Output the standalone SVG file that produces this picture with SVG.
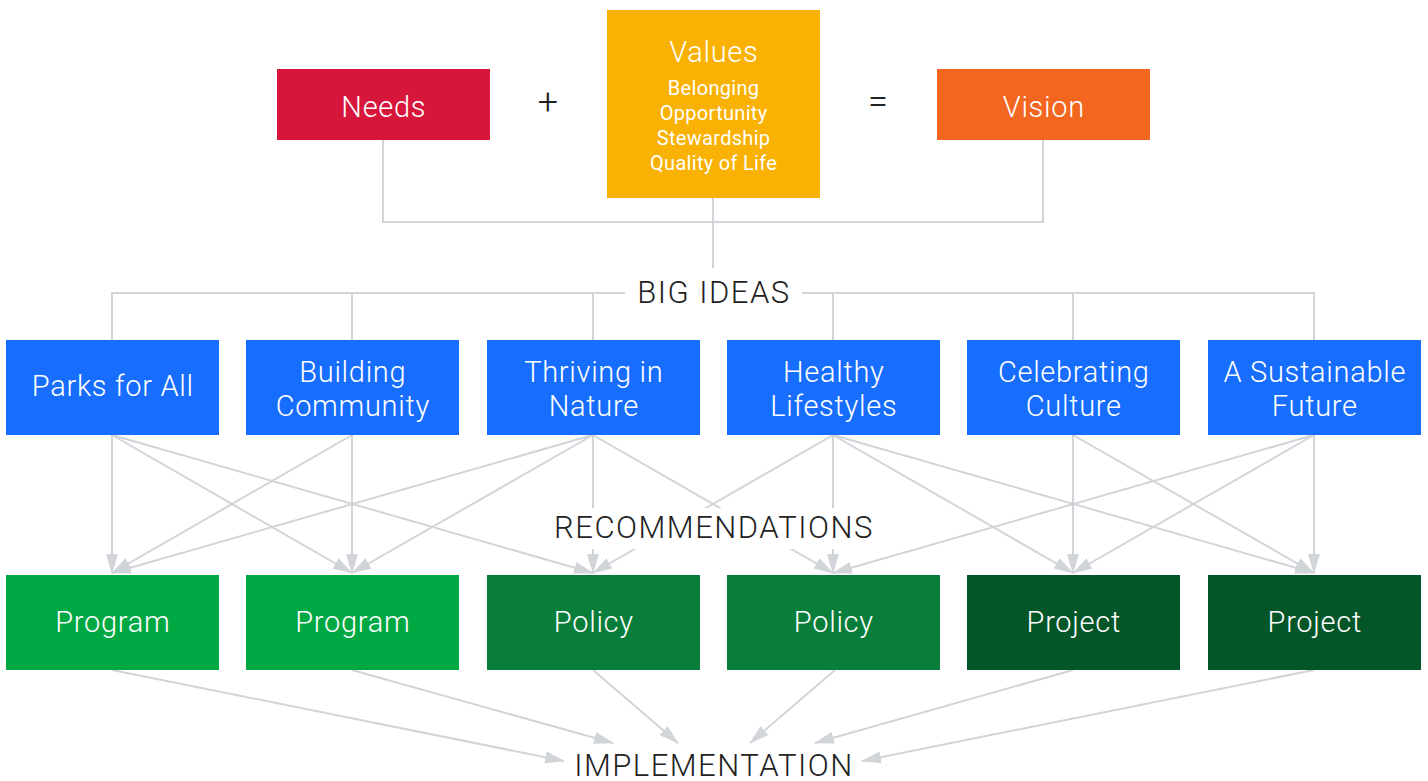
<svg xmlns="http://www.w3.org/2000/svg" width="1428" height="781" viewBox="0 0 1428 781">
<defs>
<style>
.lbl{font-family:Roboto,"Liberation Sans",sans-serif;font-weight:300;fill:#fff;text-anchor:middle;font-size:29px;letter-spacing:0.7px}
.sub{font-size:20px;font-weight:400;letter-spacing:0.3px}
.hd{font-family:Roboto,"Liberation Sans",sans-serif;font-weight:300;fill:#222;text-anchor:middle;font-size:31px;letter-spacing:1.5px}
.op{font-size:36px;letter-spacing:0}
.ln{fill:none;stroke:#D1D5D9;stroke-width:2}
.ar{fill:none;stroke:#D1D5D9;stroke-width:2;marker-end:url(#ah)}
.big{fill:#166DFE}
.prog{fill:#00A843}
.pol{fill:#087E3A}
.proj{fill:#045628}
</style>
<marker id="ah" markerUnits="userSpaceOnUse" markerWidth="20" markerHeight="12" refX="19" refY="6" orient="auto" viewBox="0 0 20 12">
<path d="M0,0 L20,6 L0,12 z" fill="#D1D5D9"/>
</marker>
</defs>
<rect width="1428" height="781" fill="#fff"/>

<g id="connectors">
<path class="ln" d="M383,140 V222 H1043 V140"/>
<path class="ln" d="M713,198 V275"/>
<path class="ln" d="M112,340 V293 H1314 V340"/>
<path class="ln" d="M352,293 V340 M593,293 V340 M833,293 V340 M1073,293 V340"/>
<path class="ar" d="M112,435 L112,573"/>
<path class="ar" d="M112,435 L352,573"/>
<path class="ar" d="M112,435 L593,573"/>
<path class="ar" d="M352,435 L112,573"/>
<path class="ar" d="M352,435 L352,573"/>
<path class="ar" d="M593,435 L112,573"/>
<path class="ar" d="M593,435 L352,573"/>
<path class="ar" d="M593,435 L593,573"/>
<path class="ar" d="M593,435 L833,573"/>
<path class="ar" d="M833,435 L593,573"/>
<path class="ar" d="M833,435 L833,573"/>
<path class="ar" d="M833,435 L1073,573"/>
<path class="ar" d="M833,435 L1314,573"/>
<path class="ar" d="M1073,435 L1073,573"/>
<path class="ar" d="M1073,435 L1314,573"/>
<path class="ar" d="M1314,435 L833,573"/>
<path class="ar" d="M1314,435 L1073,573"/>
<path class="ar" d="M1314,435 L1314,573"/>
<path class="ar" d="M112,670 L564,761"/>
<path class="ar" d="M352,670 L613,743"/>
<path class="ar" d="M593,670 L678,743"/>
<path class="ar" d="M835,670 L750,743"/>
<path class="ar" d="M1073,670 L815,743"/>
<path class="ar" d="M1314,670 L862,761"/>
</g>

<g id="label-big-ideas">
<rect x="625" y="268" width="177" height="48" fill="#fff"/>
<text class="hd" x="714" y="303">BIG IDEAS</text>
</g>
<g id="label-recommendations">
<rect x="541" y="508" width="345" height="41" fill="#fff"/>
<text class="hd" x="714" y="538">RECOMMENDATIONS</text>
</g>
<g id="label-implementation">
<text class="hd" x="714" y="776">IMPLEMENTATION</text>
</g>

<g id="needs">
<rect x="277" y="69" width="213" height="71" fill="#D7163C"/>
<text class="lbl" x="383.8" y="117">Needs</text>
</g>
<g id="plus"><text class="hd op" x="548" y="114">+</text></g>
<g id="values">
<rect x="607" y="10" width="213" height="188" fill="#F9B104"/>
<text class="lbl" x="713.8" y="62">Values</text>
<text class="lbl sub" x="713.6" y="95">Belonging</text>
<text class="lbl sub" x="713.6" y="120">Opportunity</text>
<text class="lbl sub" x="713.6" y="145">Stewardship</text>
<text class="lbl sub" x="713.6" y="170">Quality of Life</text>
</g>
<g id="equals"><text class="hd op" x="878" y="114">=</text></g>
<g id="vision">
<rect x="937" y="69" width="213" height="71" fill="#F2661F"/>
<text class="lbl" x="1043.8" y="117">Vision</text>
</g>

<g id="parks-for-all">
<rect class="big" x="6" y="340" width="213" height="95"/>
<text class="lbl" x="112.8" y="396">Parks for All</text>
</g>
<g id="building-community">
<rect class="big" x="246" y="340" width="213" height="95"/>
<text class="lbl" x="352.8" y="382">Building</text>
<text class="lbl" x="352.8" y="416">Community</text>
</g>
<g id="thriving-in-nature">
<rect class="big" x="487" y="340" width="213" height="95"/>
<text class="lbl" x="593.8" y="382">Thriving in</text>
<text class="lbl" x="593.8" y="416">Nature</text>
</g>
<g id="healthy-lifestyles">
<rect class="big" x="727" y="340" width="213" height="95"/>
<text class="lbl" x="833.8" y="382">Healthy</text>
<text class="lbl" x="833.8" y="416">Lifestyles</text>
</g>
<g id="celebrating-culture">
<rect class="big" x="967" y="340" width="213" height="95"/>
<text class="lbl" x="1073.8" y="382">Celebrating</text>
<text class="lbl" x="1073.8" y="416">Culture</text>
</g>
<g id="sustainable-future">
<rect class="big" x="1208" y="340" width="213" height="95"/>
<text class="lbl" x="1314.8" y="382">A Sustainable</text>
<text class="lbl" x="1314.8" y="416">Future</text>
</g>

<g id="program-1">
<rect class="prog" x="6" y="575" width="213" height="95"/>
<text class="lbl" x="112.8" y="632">Program</text>
</g>
<g id="program-2">
<rect class="prog" x="246" y="575" width="213" height="95"/>
<text class="lbl" x="352.8" y="632">Program</text>
</g>
<g id="policy-1">
<rect class="pol" x="487" y="575" width="213" height="95"/>
<text class="lbl" x="593.8" y="632">Policy</text>
</g>
<g id="policy-2">
<rect class="pol" x="727" y="575" width="213" height="95"/>
<text class="lbl" x="833.8" y="632">Policy</text>
</g>
<g id="project-1">
<rect class="proj" x="967" y="575" width="213" height="95"/>
<text class="lbl" x="1073.8" y="632">Project</text>
</g>
<g id="project-2">
<rect class="proj" x="1208" y="575" width="213" height="95"/>
<text class="lbl" x="1314.8" y="632">Project</text>
</g>
</svg>
